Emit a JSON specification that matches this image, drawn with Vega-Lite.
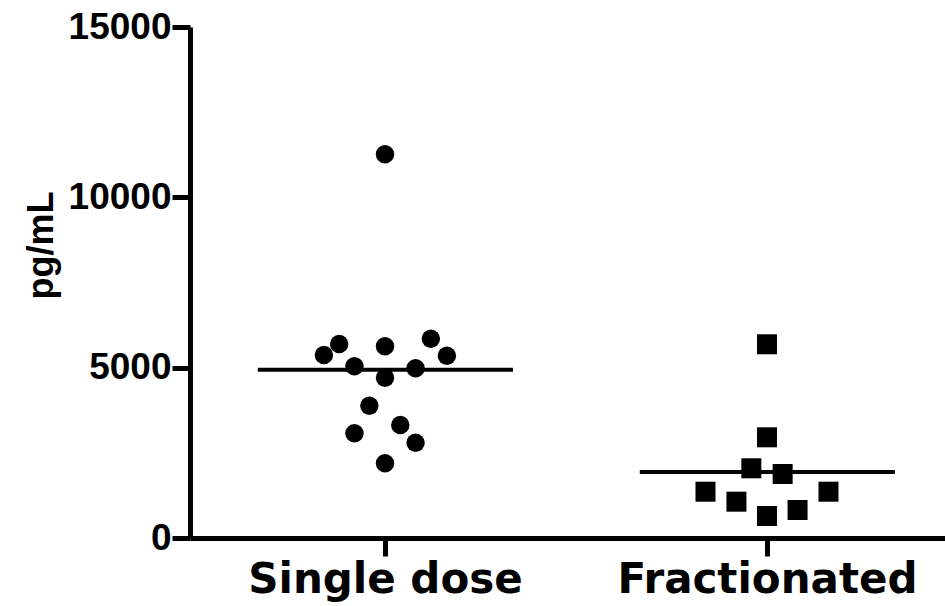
{
  "$schema": "https://vega.github.io/schema/vega-lite/v6.json",
  "width": 755,
  "height": 511,
  "autosize": {"type": "none"},
  "padding": {"left": 190, "top": 27, "right": 0, "bottom": 68},
  "background": "white",
  "config": {
    "view": {"stroke": null},
    "font": "Liberation Sans",
    "axis": {
      "grid": false,
      "domainColor": "black",
      "domainWidth": 5,
      "tickColor": "black",
      "tickWidth": 5,
      "tickSize": 18,
      "labelColor": "black",
      "labelFont": "Liberation Sans",
      "labelFontWeight": "bold",
      "labelLimit": 0,
      "titleColor": "black",
      "titleFont": "Liberation Sans",
      "titleFontWeight": "bold"
    }
  },
  "datasets": {
    "points": [
      {"group": "Single dose", "pos": 1.0, "value": 11263},
      {"group": "Single dose", "pos": 0.88, "value": 5695},
      {"group": "Single dose", "pos": 0.84, "value": 5372},
      {"group": "Single dose", "pos": 1.0, "value": 5627},
      {"group": "Single dose", "pos": 1.12, "value": 5850},
      {"group": "Single dose", "pos": 1.162, "value": 5351},
      {"group": "Single dose", "pos": 0.92, "value": 5040},
      {"group": "Single dose", "pos": 1.08, "value": 4981},
      {"group": "Single dose", "pos": 1.0, "value": 4705},
      {"group": "Single dose", "pos": 0.959, "value": 3884},
      {"group": "Single dose", "pos": 1.04, "value": 3317},
      {"group": "Single dose", "pos": 0.92, "value": 3073},
      {"group": "Single dose", "pos": 1.08, "value": 2798},
      {"group": "Single dose", "pos": 1.0, "value": 2193},
      {"group": "Fractionated", "pos": 2.0, "value": 5686},
      {"group": "Fractionated", "pos": 2.0, "value": 2956},
      {"group": "Fractionated", "pos": 1.959, "value": 2046},
      {"group": "Fractionated", "pos": 2.041, "value": 1879},
      {"group": "Fractionated", "pos": 1.839, "value": 1359},
      {"group": "Fractionated", "pos": 2.161, "value": 1359},
      {"group": "Fractionated", "pos": 1.92, "value": 1066},
      {"group": "Fractionated", "pos": 2.08, "value": 822},
      {"group": "Fractionated", "pos": 2.0, "value": 646}
    ],
    "medians": [
      {"group": "Single dose", "start": 0.667, "end": 1.335, "median": 4940},
      {"group": "Fractionated", "start": 1.667, "end": 2.335, "median": 1940}
    ]
  },
  "layer": [
    {
      "data": {"name": "medians"},
      "mark": {"type": "rule", "strokeWidth": 4, "color": "black"},
      "encoding": {
        "x": {"field": "start", "type": "quantitative"},
        "x2": {"field": "end"},
        "y": {"field": "median", "type": "quantitative"}
      }
    },
    {
      "data": {"name": "points"},
      "transform": [{"filter": "datum.group == 'Single dose'"}],
      "mark": {"type": "point", "shape": "circle", "filled": true, "color": "black", "opacity": 1, "size": 340},
      "encoding": {
        "x": {"field": "pos", "type": "quantitative"},
        "y": {"field": "value", "type": "quantitative"}
      }
    },
    {
      "data": {"name": "points"},
      "transform": [{"filter": "datum.group == 'Fractionated'"}],
      "mark": {"type": "point", "shape": "square", "filled": true, "color": "black", "opacity": 1, "size": 400},
      "encoding": {
        "x": {
          "field": "pos",
          "type": "quantitative",
          "scale": {"domain": [0.4895, 2.466], "nice": false, "zero": false},
          "axis": {
            "title": null,
            "values": [1, 2],
            "labelExpr": "datum.value == 1 ? 'Single dose' : 'Fractionated'",
            "labelFont": "DejaVu Sans",
            "labelFontSize": 42,
            "labelPadding": 3
          }
        },
        "y": {
          "field": "value",
          "type": "quantitative",
          "scale": {"domain": [0, 15000], "nice": false},
          "axis": {
            "title": "pg/mL",
            "values": [0, 5000, 10000, 15000],
            "format": "d",
            "labelFontSize": 37,
            "labelPadding": 1,
            "titleFontSize": 36,
            "titleX": -138,
            "titleY": 218,
            "titleAngle": -90,
            "titleAlign": "center",
            "titleBaseline": "alphabetic"
          }
        }
      }
    }
  ]
}
